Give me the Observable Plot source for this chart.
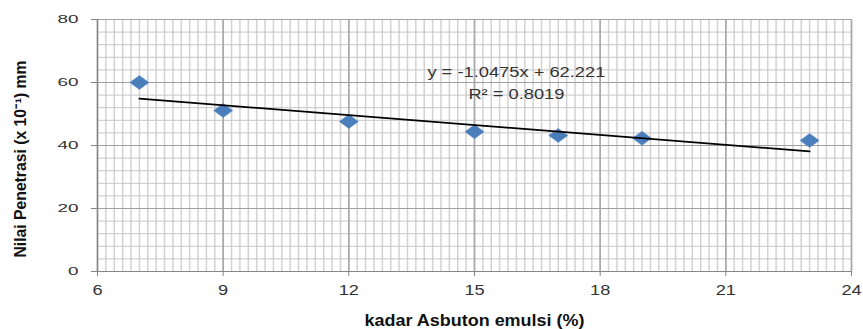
<!DOCTYPE html>
<html><head><meta charset="utf-8">
<script src="https://cdn.jsdelivr.net/npm/d3@7"></script>
<script src="https://cdn.jsdelivr.net/npm/@observablehq/plot@0.6"></script>
<style>body{margin:0;background:#fff} svg{display:block}</style>
</head><body><div id="chart"></div>
<script>
// Data
const kadar = [7, 9, 12, 15, 17, 19, 23];
const penetrasi = [60, 51.1, 47.6, 44.4, 43.2, 42.3, 41.6];
const trendX = [7, 23];
const trendY = [54.89, 38.13];
const xTicks = [6, 9, 12, 15, 18, 21, 24];
const yTicks = [0, 20, 40, 60, 80];
const xTitle = "kadar Asbuton emulsi (%)";
const yTitle = "Nilai Penetrasi (x 10\u207B\u00B9) mm";
const equationLines = ["y = -1.0475x + 62.221", "R\u00B2 = 0.8019"];

const points = kadar.map((x, i) => ({x, y: penetrasi[i]}));
const trend = trendX.map((x, i) => ({x, y: trendY[i]}));
const xMinor = d3.range(0, 91).map(i => 6 + i * 0.2);
const yMinor = d3.range(0, 21).map(i => i * 4);

// wide diamond marker (stretched horizontally like the reference)
const wideDiamond = {
  draw(ctx, size) {
    const h = Math.sqrt(size) / 2;
    const w = h * 1.36;
    ctx.moveTo(-w, 0); ctx.lineTo(0, -h); ctx.lineTo(w, 0); ctx.lineTo(0, h); ctx.closePath();
  }
};

const svg = Plot.plot({
  width: 863,
  height: 329,
  marginLeft: 97,
  marginRight: 12,
  marginTop: 19,
  marginBottom: 58,
  style: {fontFamily: "'Liberation Sans', Arial, sans-serif", background: "#fff", color: "#333"},
  x: {domain: [6, 24]},
  y: {domain: [0, 80]},
  marks: [
    Plot.ruleX(xMinor, {stroke: "#d2d2d2", strokeWidth: 1.5}),
    Plot.ruleY(yMinor, {stroke: "#c6c6c6", strokeWidth: 1}),
    Plot.ruleX(xTicks, {stroke: "#a8a8a8", strokeWidth: 1.6}),
    Plot.ruleY(yTicks, {stroke: "#a0a0a0", strokeWidth: 1}),
    Plot.ruleX([6], {stroke: "#868686", strokeWidth: 1.2}),
    Plot.ruleY([0], {stroke: "#868686", strokeWidth: 1.2}),
    Plot.axisY(yTicks, {tickSize: 6, tickPadding: 13, fontSize: 10.5, stroke: "#868686", fill: "#333", label: null}),
    Plot.axisX(xTicks, {tickSize: 5, tickPadding: 9, fontSize: 14, stroke: "#868686", fill: "#333", label: null}),
    Plot.dot(points, {x: "x", y: "y", symbol: wideDiamond, r: 7.9, fill: "#4a7ebb", stroke: "#5d8fcb", strokeWidth: 0.6}),
    Plot.line(trend, {x: "x", y: "y", stroke: "#000", strokeWidth: 1.8}),
    Plot.text(equationLines, {x: () => 16, y: (d, i) => [63.3, 56.1][i], text: d => d, fontSize: 14, fill: "#333", lineAnchor: "middle"}),
    Plot.text([xTitle], {frameAnchor: "bottom", text: d => d, dy: 49.3, lineAnchor: "middle", textAnchor: "middle", fontSize: 16, fontWeight: "bold", fill: "#111"}),
    Plot.text([yTitle], {frameAnchor: "left", text: d => d, rotate: -90, dx: -76.5, dy: 13.5, lineAnchor: "middle", textAnchor: "middle", fontSize: 16.5, fontWeight: "bold", fill: "#111"})
  ]
});

document.getElementById("chart").append(svg);

// horizontal stretching of the texts, as in the reference picture
function setLength(t, len) {
  t.setAttribute("textLength", len);
  t.setAttribute("lengthAdjust", "spacingAndGlyphs");
}
svg.querySelectorAll('g[aria-label="y-axis tick label"] text').forEach(t => setLength(t, t.getComputedTextLength() * 1.8));
svg.querySelectorAll('g[aria-label="x-axis tick label"] text').forEach(t => setLength(t, t.getComputedTextLength() * 1.3));
const targetWidths = new Map([[xTitle, 220], [yTitle, 197], [equationLines[0], 178], [equationLines[1], 96]]);
svg.querySelectorAll("text").forEach(t => {
  const w = targetWidths.get(t.textContent);
  if (w) setLength(t, w);
});
</script>
</body></html>
